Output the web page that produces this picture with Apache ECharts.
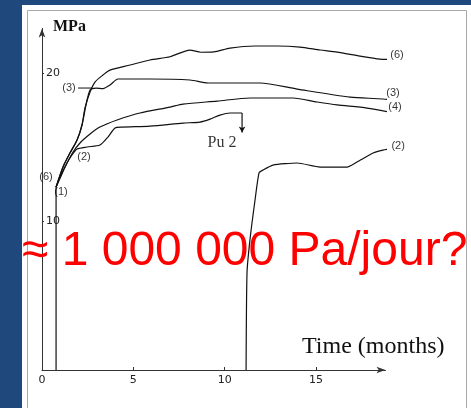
<!DOCTYPE html>
<html><head><meta charset="utf-8">
<script src="https://cdn.jsdelivr.net/npm/echarts@6/dist/echarts.min.js"></script>
<style>html,body{margin:0;padding:0;background:#1f497d}#c{width:471px;height:408px}</style>
</head><body><div id="c"></div>
<script>
// Curve (6)
const curve6X = [0.77,1.15,1.53,1.92,2.19,2.35,2.63,2.90,3.34,3.72,4.82,5.91,7.01,8.10,8.70,9.40,10.29,11.66,12.86,14.12,15.22,16.15,17.41,18.50,19.32,19.98];
const curve6Y = [12.32,13.67,14.61,15.49,16.50,17.64,18.72,19.39,19.87,20.20,20.54,20.88,21.10,21.55,21.40,21.42,21.68,21.82,21.82,21.75,21.55,21.41,21.14,20.94,20.90,20.67];
// Curve (3)
const curve3X = [0.77,1.15,1.53,1.92,2.19,2.41,2.63,2.96,3.34,3.72,4.16,5.91,8.10,9.09,11.93,13.96,16.86,18.66,19.98];
const curve3Y = [12.32,13.67,14.61,15.49,16.50,17.85,18.86,18.99,18.95,19.19,19.60,19.60,19.53,19.33,19.33,18.92,18.38,18.25,18.05];
// Curve (4)
const curve4X = [0.77,0.99,1.37,1.70,2.08,2.63,3.17,4.11,5.36,7.01,7.72,9.58,11.38,13.74,15.05,16.15,17.79,19.87];
const curve4Y = [12.32,12.93,13.94,14.68,15.29,15.89,16.36,16.84,17.31,17.71,17.91,18.11,18.32,18.32,18.05,17.85,17.64,17.17];
// Curve (2) first specimen, up to rupture "Pu 2"
const curve2aX = [0.77,1.09,1.37,1.64,1.92,2.46,3.17,3.61,4.00,4.38,5.91,7.72,8.65,9.20,9.74,10.29,10.95];
const curve2aY = [12.32,13.27,13.94,14.48,14.88,15.02,15.15,15.69,16.30,16.36,16.43,16.63,16.70,16.90,17.17,17.31,17.31];
const ruptureX = [10.95,10.95];
const ruptureY = [17.31,16.0];
// Curve (2) reloaded
const curve2bX = [11.17,11.22,11.38,11.66,11.88,12.10,12.64,13.96,15.22,16.69,17.24,18.12,18.66,19.05];
const curve2bY = [0,6.53,8.75,11.45,13.27,13.47,13.80,13.94,13.67,13.67,14.01,14.61,14.81,14.88];
// Initial loading (1)
const loadX = [0.77,0.77];
const loadY = [0,12.32];
// Annotations
const annoText = ['(6)','(3)','(4)','(2)','(3)','(6)','(1)','(2)','Pu 2'];
const annoX = [19.43,19.21,19.32,19.49,1.48,0.22,1.04,2.30,9.85];
const annoY = [21.21,18.65,17.71,15.08,18.99,13.0,11.99,14.34,15.29];
const leaderX = [1.97,2.74];
const leaderY = [18.99,18.99];
const xTicks = [0,5,10,15];
const yTicks = [10,20];

const pts = (xs, ys) => xs.map((x, i) => [x, ys[i]]);
const LC = '#111111';
function curve(name, xs, ys, smooth) {
  return { type:'line', name, data: pts(xs, ys), symbol:'none', smooth: smooth, clip:false,
    lineStyle:{ color: LC, width: 1.2 }, silent:true, z:3 };
}
const chart = echarts.init(document.getElementById('c'), null, { renderer:'canvas' });
const ruptureData = pts(ruptureX, ruptureY).map((p, i) => i === 1 ? { value:p, symbol:'arrow', symbolSize:[5,6], symbolRotate:180 } : { value:p, symbol:'none' });
chart.setOption({
  animation:false,
  backgroundColor:'#1f497d',
  grid:{ left:42, top:28.5, bottom:38, right:85.5 },
  xAxis:{ type:'value', min:0, max:18.8, interval:5,
    axisLine:{ show:true, symbol:['none','arrow'], symbolSize:[5,9], lineStyle:{ color:'#333', width:1 } },
    axisTick:{ show:true, inside:true, length:3, lineStyle:{ color:'#333' } },
    axisLabel:{ showMaxLabel:false, color:'#222', fontSize:11, margin:5, fontFamily:'DejaVu Sans',
      formatter: v => xTicks.includes(v) ? String(v) : '' },
    splitLine:{ show:false } },
  yAxis:{ type:'value', min:0, max:23, interval:10,
    axisLine:{ show:true, symbol:['none','arrow'], symbolSize:[5,9], lineStyle:{ color:'#333', width:1 } },
    axisTick:{ show:true, inside:true, length:2, lineStyle:{ color:'#333' } },
    axisLabel:{ inside:true, showMinLabel:false, showMaxLabel:false, color:'#222', fontSize:11, margin:4, fontFamily:'DejaVu Sans',
      formatter: v => yTicks.includes(v) ? String(v) : '' },
    splitLine:{ show:false } },
  graphic:[
    { type:'rect', shape:{ x:22, y:5, width:449, height:403 }, style:{ fill:'#ffffff' }, z:-10 },
    { type:'rect', shape:{ x:27.5, y:10.5, width:439, height:410 }, style:{ fill:'none', stroke:'#a8a8a8', lineWidth:1 }, z:-9 },
    { type:'text', left:53, top:19, style:{ text:'MPa', font:'bold 16px "Liberation Serif"', fill:'#111' }, z:10 },
    { type:'text', left:302, top:335, style:{ text:'Time (months)', font:'24px "Liberation Serif"', fill:'#111' }, z:10 },
    { type:'text', left:22, top:228, style:{ text:'≈ 1 000 000 Pa/jour?', font:'48px "Liberation Sans"', fill:'#ff0000' }, z:100 }
  ],
  series:[
    curve('(1)', loadX, loadY, false),
    curve('(6)', curve6X, curve6Y, 0.25),
    curve('(3)', curve3X, curve3Y, 0.25),
    curve('(4)', curve4X, curve4Y, 0.25),
    curve('(2)', curve2aX, curve2aY, 0.25),
    { type:'line', name:'rupture', data: ruptureData, showSymbol:true, symbol:'none', clip:false,
      itemStyle:{ color:LC }, lineStyle:{ color:LC, width:1.2 }, silent:true, z:3 },
    curve('(2) reload', curve2bX, curve2bY, 0.2),
    { type:'line', name:'leader', data: pts(leaderX, leaderY), symbol:'none', clip:false,
      lineStyle:{ color:LC, width:1 }, silent:true },
    { type:'scatter', name:'labels', clip:false, symbolSize:1, itemStyle:{ color:'rgba(0,0,0,0)' }, silent:true, z:5,
      data: annoX.map((x, i) => {
        const it = { value:[x, annoY[i]] };
        if (annoText[i] === 'Pu 2') it.label = { fontSize:16, fontFamily:'Liberation Serif', color:'#000' };
        return it;
      }),
      label:{ show:true, position:'inside', color:'#000', textBorderWidth:0, fontSize:11, fontFamily:'Liberation Sans',
        formatter: p => annoText[p.dataIndex] } }
  ]
});
</script></body></html>
